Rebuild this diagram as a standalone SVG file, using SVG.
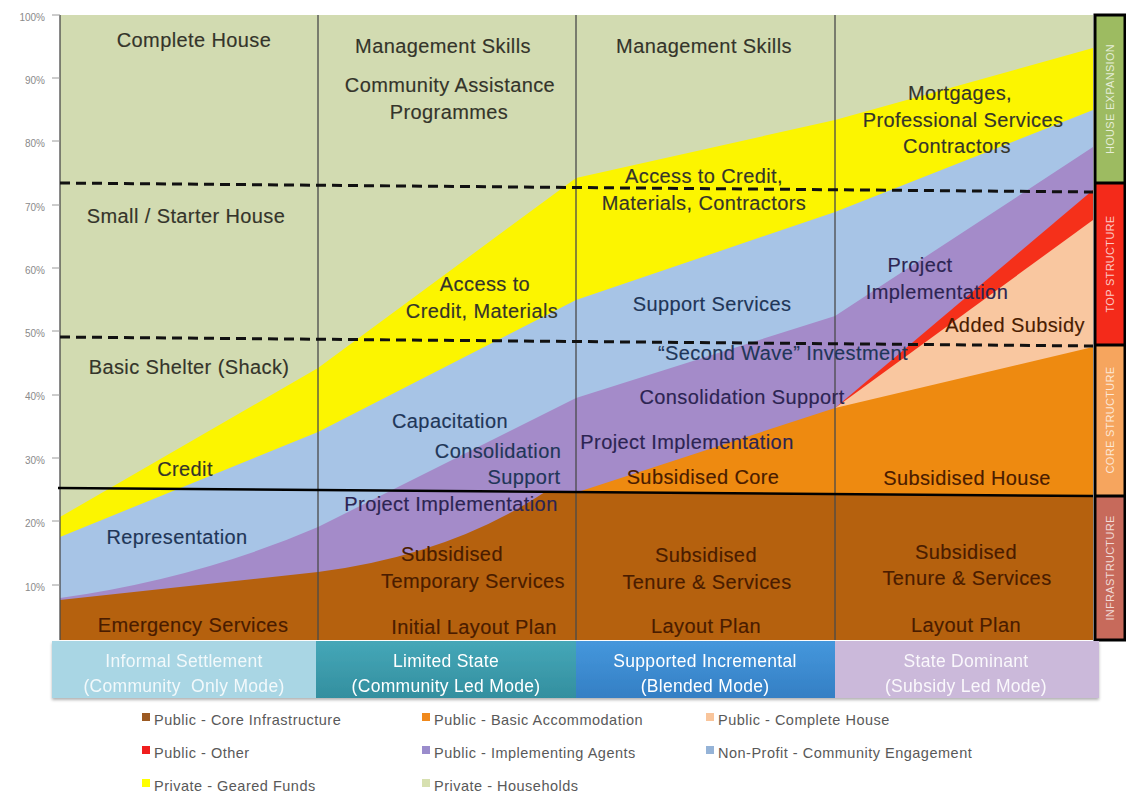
<svg xmlns="http://www.w3.org/2000/svg" width="1126" height="796" viewBox="0 0 1126 796">
<defs>
<style>
.lbl{font-family:"Liberation Sans",Arial,sans-serif;font-size:20px;letter-spacing:0.4px;text-anchor:middle;stroke-width:0.15px}
.g{fill:#34342a;stroke:#34342a}
.b{fill:#1f3658;stroke:#1f3658}
.p{fill:#2c2452;stroke:#2c2452}
.br{fill:#4a1c00;stroke:#4a1c00}
.ax{font-family:"Liberation Sans",Arial,sans-serif;font-size:10px;fill:#8a8a8a;text-anchor:end}
.bar{font-family:"Liberation Sans",Arial,sans-serif;font-size:17.5px;letter-spacing:0.3px;text-anchor:middle;fill:#ffffff}
.lg{font-family:"Liberation Sans",Arial,sans-serif;font-size:14.5px;letter-spacing:0.5px;fill:#595959}
.side{font-family:"Liberation Sans",Arial,sans-serif;font-size:11px;fill:#ffffff;fill-opacity:0.75;text-anchor:middle;letter-spacing:0.3px}
.vline{stroke:#4a4a4a;stroke-width:1.3}
.dash{stroke:#111;stroke-width:3;stroke-dasharray:10 6;fill:none}
</style>
<linearGradient id="gc2" x1="0" y1="0" x2="0" y2="1"><stop offset="0" stop-color="#45a7b8"/><stop offset="1" stop-color="#338f9f"/></linearGradient>
<linearGradient id="gc3" x1="0" y1="0" x2="0" y2="1"><stop offset="0" stop-color="#4597dc"/><stop offset="1" stop-color="#347fc4"/></linearGradient>
<filter id="sh" x="-2%" y="-10%" width="104%" height="130%"><feDropShadow dx="0" dy="2" stdDeviation="1.5" flood-color="#000" flood-opacity="0.3"/></filter>
</defs>
<rect width="1126" height="796" fill="#ffffff"/>

<g id="areas">
<rect x="60" y="15" width="1033" height="625" fill="#d2dbb1"/>
<polygon fill="#fcf500" points="60,517 318,368 576,178 835,120 1093,48 1093,640 60,640"/>
<polygon fill="#a7c4e6" points="60,537 318,432 576,300 835,212 1093,110 1093,640 60,640"/>
<path fill="#a48bc9" d="M60,598 Q200,578 318,527 L576,398 L835,316 L1093,147 L1093,640 L60,640 Z"/>
<polygon fill="#f5301a" points="835,408 1093,190 1093,640 835,640"/>
<polygon fill="#f9c7a0" points="835,408 1093,220 1093,640 835,640"/>
<polygon fill="#ee8a10" points="578,492 835,408 1093,347 1093,640 578,640"/>
<path fill="#b5610e" d="M60,600 L318,572 Q450,555 545,492 L1093,496 L1093,640 L60,640 Z"/>
</g>

<g id="grid">
<line class="vline" x1="60" y1="15" x2="60" y2="640"/>
<line class="vline" x1="318" y1="15" x2="318" y2="640"/>
<line class="vline" x1="576" y1="15" x2="576" y2="640"/>
<line class="vline" x1="835" y1="15" x2="835" y2="640"/>
<line class="dash" x1="60" y1="183" x2="1093" y2="192"/>
<line class="dash" x1="60" y1="337" x2="1093" y2="346"/>
<line x1="58" y1="488" x2="1093" y2="496" stroke="#000" stroke-width="2.5"/>
</g>

<g id="axis">
<g stroke="#9a9a9a" stroke-width="1">
<line x1="52" y1="15" x2="60" y2="15"/><line x1="52" y1="78" x2="60" y2="78"/><line x1="52" y1="141" x2="60" y2="141"/><line x1="52" y1="205" x2="60" y2="205"/><line x1="52" y1="268" x2="60" y2="268"/><line x1="52" y1="331" x2="60" y2="331"/><line x1="52" y1="395" x2="60" y2="395"/><line x1="52" y1="458" x2="60" y2="458"/><line x1="52" y1="521" x2="60" y2="521"/><line x1="52" y1="585" x2="60" y2="585"/>
</g>
<text class="ax" x="45" y="21">100%</text>
<text class="ax" x="45" y="84">90%</text>
<text class="ax" x="45" y="147">80%</text>
<text class="ax" x="45" y="211">70%</text>
<text class="ax" x="45" y="274">60%</text>
<text class="ax" x="45" y="337">50%</text>
<text class="ax" x="45" y="400">40%</text>
<text class="ax" x="45" y="464">30%</text>
<text class="ax" x="45" y="527">20%</text>
<text class="ax" x="45" y="591">10%</text>
</g>

<g id="col1-labels">
<text class="lbl g" x="194" y="47">Complete House</text>
<text class="lbl g" x="186" y="223">Small / Starter House</text>
<text class="lbl g" x="189" y="374">Basic Shelter (Shack)</text>
<text class="lbl g" x="185" y="476">Credit</text>
<text class="lbl b" x="177" y="544">Representation</text>
<text class="lbl br" x="193" y="632">Emergency Services</text>
</g>

<g id="col2-labels">
<text class="lbl g" x="443" y="53">Management Skills</text>
<text class="lbl g" x="450" y="92">Community Assistance</text>
<text class="lbl g" x="449" y="119">Programmes</text>
<text class="lbl g" x="485" y="291">Access to</text>
<text class="lbl g" x="482" y="318">Credit, Materials</text>
<text class="lbl b" x="450" y="428">Capacitation</text>
<text class="lbl b" x="498" y="458">Consolidation</text>
<text class="lbl b" x="524" y="484">Support</text>
<text class="lbl p" x="451" y="511">Project Implementation</text>
<text class="lbl br" x="452" y="561">Subsidised</text>
<text class="lbl br" x="473" y="588">Temporary Services</text>
<text class="lbl br" x="474" y="634">Initial Layout Plan</text>
</g>

<g id="col3-labels">
<text class="lbl g" x="704" y="53">Management Skills</text>
<text class="lbl g" x="704" y="183">Access to Credit,</text>
<text class="lbl g" x="704" y="210">Materials, Contractors</text>
<text class="lbl b" x="712" y="311">Support Services</text>
<text class="lbl b" x="783" y="360">“Second Wave” Investment</text>
<text class="lbl p" x="742" y="404">Consolidation Support</text>
<text class="lbl p" x="687" y="449">Project Implementation</text>
<text class="lbl br" x="703" y="484">Subsidised Core</text>
<text class="lbl br" x="706" y="562">Subsidised</text>
<text class="lbl br" x="707" y="589">Tenure &amp; Services</text>
<text class="lbl br" x="706" y="633">Layout Plan</text>
</g>

<g id="col4-labels">
<text class="lbl g" x="960" y="100">Mortgages,</text>
<text class="lbl g" x="963" y="127">Professional Services</text>
<text class="lbl g" x="957" y="153">Contractors</text>
<text class="lbl p" x="920" y="272">Project</text>
<text class="lbl p" x="937" y="299">Implementation</text>
<text class="lbl br" x="1015" y="332">Added Subsidy</text>
<text class="lbl br" x="967" y="485">Subsidised House</text>
<text class="lbl br" x="966" y="559">Subsidised</text>
<text class="lbl br" x="967" y="585">Tenure &amp; Services</text>
<text class="lbl br" x="966" y="632">Layout Plan</text>
</g>

<g id="sidebar">
<rect x="1095" y="15" width="30" height="168" fill="#9dbb61"/>
<rect x="1095" y="183" width="30" height="162" fill="#f42a1a"/>
<rect x="1095" y="345" width="30" height="151" fill="#f6a55e"/>
<rect x="1095" y="496" width="30" height="144" fill="#c76a5b"/>
<g stroke="#000" stroke-width="3" fill="none">
<rect x="1095" y="15" width="30" height="625"/>
<line x1="1095" y1="183" x2="1125" y2="183"/>
<line x1="1095" y1="345" x2="1125" y2="345"/>
<line x1="1095" y1="496" x2="1125" y2="496"/>
</g>
<text class="side" transform="translate(1114,99) rotate(-90)">HOUSE EXPANSION</text>
<text class="side" transform="translate(1114,264) rotate(-90)">TOP STRUCTURE</text>
<text class="side" transform="translate(1114,420) rotate(-90)">CORE STRUCTURE</text>
<text class="side" transform="translate(1114,568) rotate(-90)">INFRASTRUCTURE</text>
</g>

<g id="modes" filter="url(#sh)">
<g id="mode1"><rect x="52" y="641" width="264" height="57" fill="#a9d6e4"/>
<text class="bar" x="184" y="667" fill-opacity="0.85">Informal Settlement</text>
<text class="bar" x="184" y="692" fill-opacity="0.85">(Community&#160; Only Mode)</text></g>
<g id="mode2"><rect x="316" y="641" width="260" height="57" fill="url(#gc2)"/>
<text class="bar" x="446" y="667">Limited State</text>
<text class="bar" x="446" y="692">(Community Led Mode)</text></g>
<g id="mode3"><rect x="576" y="641" width="259" height="57" fill="url(#gc3)"/>
<text class="bar" x="705" y="667">Supported Incremental</text>
<text class="bar" x="705" y="692">(Blended Mode)</text></g>
<g id="mode4"><rect x="835" y="641" width="264" height="57" fill="#cbb9da"/>
<text class="bar" x="966" y="667" fill-opacity="0.9">State Dominant</text>
<text class="bar" x="966" y="692" fill-opacity="0.9">(Subsidy Led Mode)</text></g>
</g>

<g id="legend">
<rect x="142" y="713" width="8" height="8" fill="#9c5a22"/><text class="lg" x="154" y="725">Public - Core Infrastructure</text>
<rect x="422" y="713" width="8" height="8" fill="#f0891c"/><text class="lg" x="434" y="725">Public - Basic Accommodation</text>
<rect x="706" y="713" width="8" height="8" fill="#f9c59b"/><text class="lg" x="718" y="725">Public - Complete House</text>
<rect x="142" y="746" width="8" height="8" fill="#f01e1e"/><text class="lg" x="154" y="758">Public - Other</text>
<rect x="422" y="746" width="8" height="8" fill="#9a8ccc"/><text class="lg" x="434" y="758">Public - Implementing Agents</text>
<rect x="706" y="746" width="8" height="8" fill="#95b3d7"/><text class="lg" x="718" y="758">Non-Profit - Community Engagement</text>
<rect x="142" y="779" width="8" height="8" fill="#ffff00"/><text class="lg" x="154" y="791">Private - Geared Funds</text>
<rect x="422" y="779" width="8" height="8" fill="#d7e0b0"/><text class="lg" x="434" y="791">Private - Households</text>
</g>
</svg>
